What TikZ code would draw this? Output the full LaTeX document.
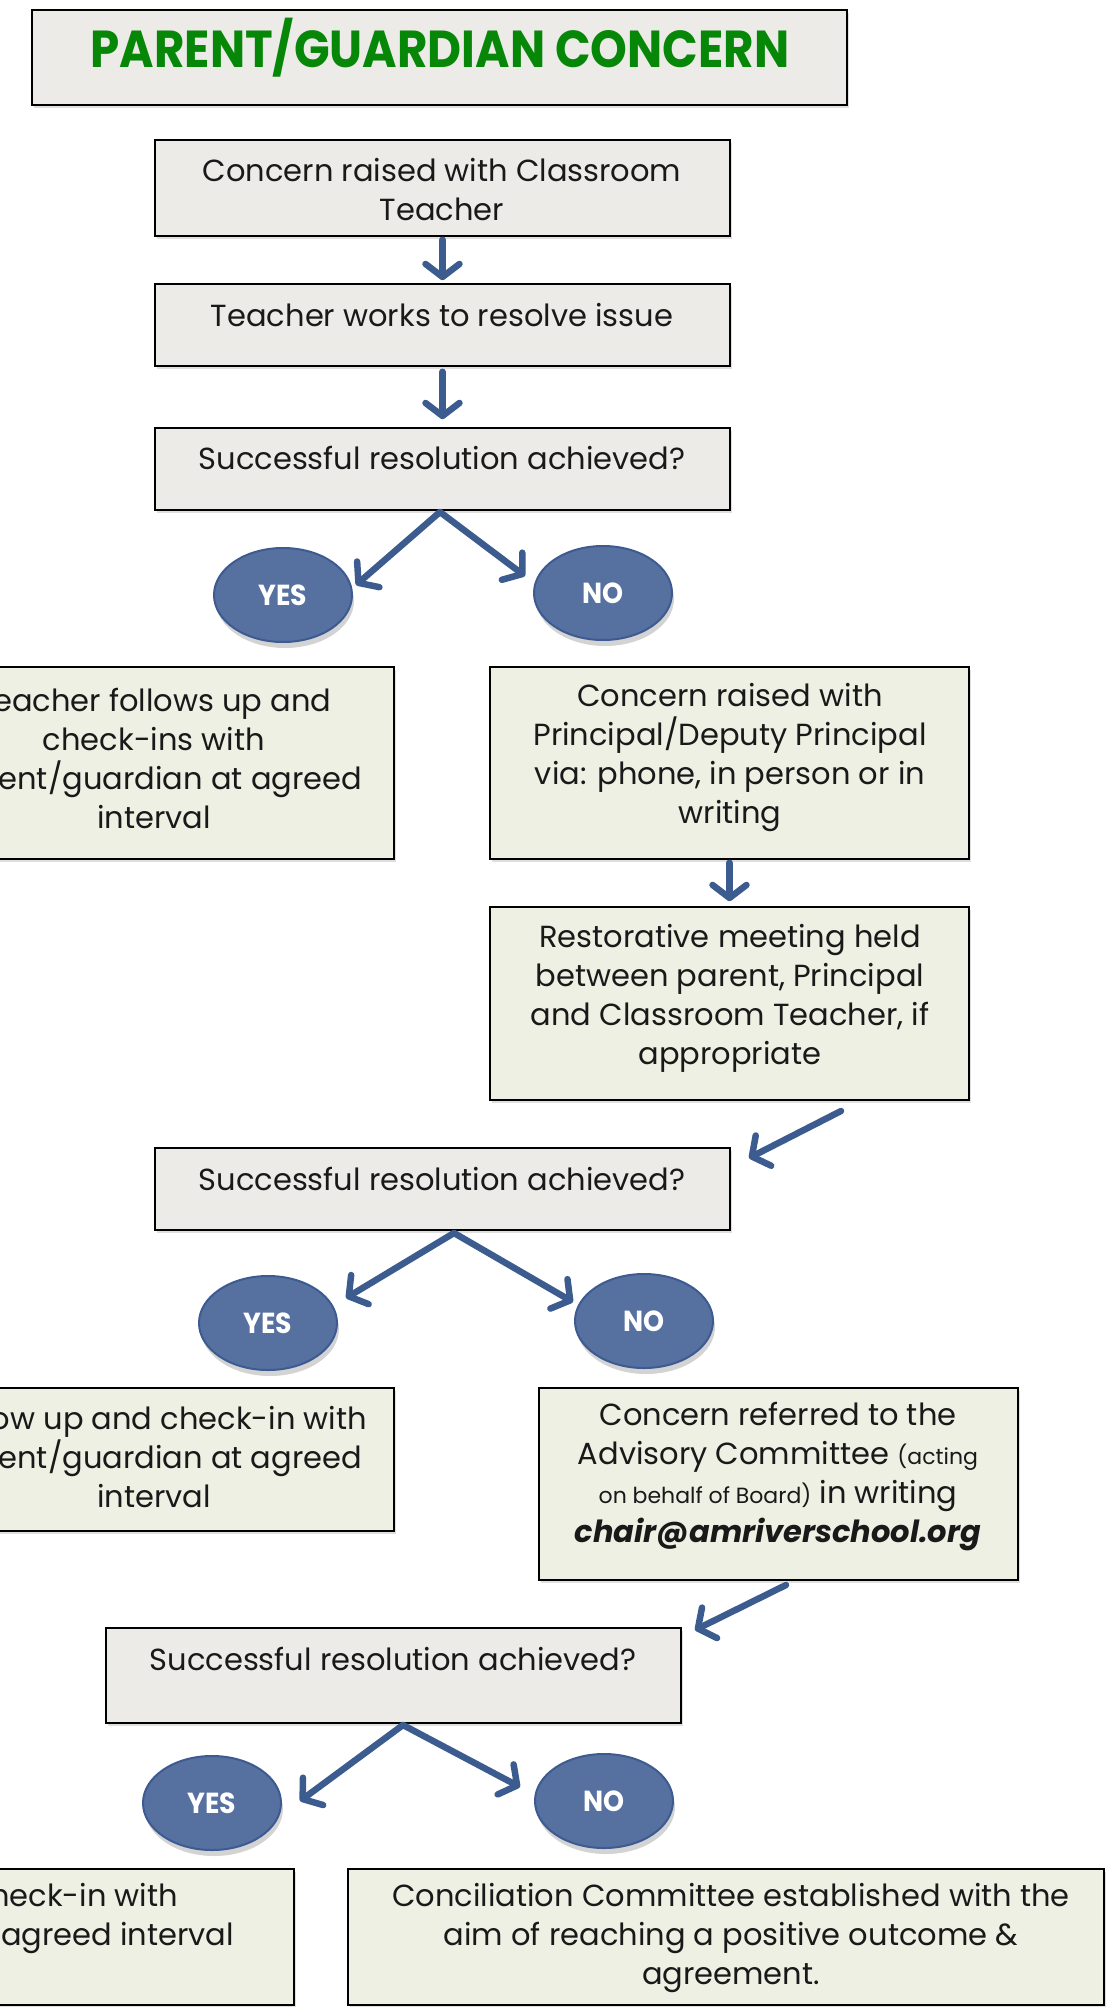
\documentclass[tikz,border=0pt]{standalone}
\usepackage{fontspec}
\setmainfont{Poppins}
\newfontfamily\titlefont{Poppins}[FakeStretch=0.9]
\newfontfamily\ynfont{Poppins}[FakeStretch=0.92]
\usetikzlibrary{arrows.meta,shadows,shapes.geometric}
\definecolor{boxgray}{HTML}{EDEBE8}
\definecolor{boxgreen}{HTML}{EEF0E4}
\definecolor{ttlgreen}{HTML}{078707}
\definecolor{arrblue}{HTML}{3C5B8E}
\definecolor{ellfill}{HTML}{5670A0}
\definecolor{elldraw}{HTML}{3D5B91}
\tikzset{
  box/.style={draw=black, line width=1.6pt, fill=boxgray, rectangle, inner sep=0,
    drop shadow={opacity=0.25, shadow xshift=2pt, shadow yshift=-3pt}},
  gbox/.style={box, fill=boxgreen},
  body/.style={font=\fontsize{30.5}{39}\selectfont, align=center, inner sep=0, text=black!90},
  yn/.style={ellipse, minimum width=138pt, minimum height=94pt, fill=ellfill, draw=elldraw,
    line width=2pt, text=white, font=\ynfont\bfseries\fontsize{29}{29}\selectfont, inner sep=0,
    drop shadow={opacity=0.35, shadow xshift=2pt, shadow yshift=-6pt}},
  flow/.style={draw=arrblue, line width=6.5pt, line cap=round,
    -{Straight Barb[length=13pt,width=34pt,round]}}
}
\begin{document}
\begin{tikzpicture}[x=1pt,y=-1pt]
\useasboundingbox (0,0) rectangle (1106,2007);
\clip (0,0) rectangle (1106,2007);
% title
\node[box, minimum width=815pt, minimum height=95pt] (title) at (439.5,57.5) {};
\node[inner sep=0, text=ttlgreen, font=\titlefont\bfseries\fontsize{52}{52}\selectfont] (tt) at (440,48) {PARENT/GUARDIAN CONCERN};
% first steps
\node[box, minimum width=575pt, minimum height=96pt] (b1) at (442.5,188) {};
\node[body] (t1) at (442,190) {Concern raised with Classroom\\Teacher};
\node[box, minimum width=575pt, minimum height=82pt] (b2) at (442.5,325) {};
\node[body] (t2) at (442,315) {Teacher works to resolve issue};
\node[box, minimum width=575pt, minimum height=82pt] (b3) at (442.5,469) {};
\node[body] (t3) at (442,458) {Successful resolution achieved?};
\draw[flow] ([yshift=-3pt]b1.south) -- ([yshift=3pt]b2.north);
\draw[flow] ([yshift=-5pt]b2.south) -- ([yshift=8pt]b3.north);
% decision 1
\node[yn] (y1) at (283,595) {YES};
\node[yn] (n1) at (603,593) {NO};
\coordinate (d1s) at (440,512);
\coordinate (d1y) at (356,585);
\coordinate (d1n) at (525,576);
\draw[flow] (d1s) -- (d1y);
\draw[flow] (d1s) -- (d1n);
% results 1
\node[gbox, minimum width=481pt, minimum height=192pt] (ba) at (153.5,763) {};
\node[body] (ta) at (154,758) {Teacher follows up and\\check-ins with\\parent/guardian at agreed\\interval};
\node[gbox, minimum width=479pt, minimum height=192pt] (bb) at (729.5,763) {};
\node[body] (tb) at (730,758) {Concern raised with\\Principal/Deputy Principal\\via: phone, in person or in\\writing};
\node[gbox, minimum width=479pt, minimum height=193pt] (bc) at (729.5,1003.5) {};
\node[body] (tc) at (730,998) {Restorative meeting held\\between parent, Principal\\and Classroom Teacher, if\\appropriate};
\draw[flow] ([yshift=-3pt]bb.south) -- ([yshift=5pt]bc.north);
\coordinate (c1s) at (841,1111);
\coordinate (c1e) at (749,1158);
\draw[flow] (c1s) -- (c1e);
% decision 2
\node[box, minimum width=575pt, minimum height=82pt] (bd) at (442.5,1189) {};
\node[body] (td) at (442,1179) {Successful resolution achieved?};
\node[yn] (y2) at (268,1323) {YES};
\node[yn] (n2) at (644,1321) {NO};
\coordinate (d2s) at (454,1233);
\coordinate (d2y) at (346,1298);
\coordinate (d2n) at (573,1302);
\draw[flow] (d2s) -- (d2y);
\draw[flow] (d2s) -- (d2n);
\node[gbox, minimum width=481pt, minimum height=143pt] (be) at (153.5,1459.5) {};
\node[body] (te) at (154,1457) {Follow up and check-in with\\parent/guardian at agreed\\interval};
\node[gbox, minimum width=479pt, minimum height=192pt] (bf) at (778.5,1484) {};
\node[body] (tf) at (778,1477) {Concern referred to the\\Advisory Committee {\fontsize{22}{39}\selectfont(acting}\\{\fontsize{22}{39}\selectfont on behalf of Board)} in writing\\\textbf{\textit{chair@amriverschool.org}}};
\coordinate (c2s) at (786,1585);
\coordinate (c2e) at (695,1630);
\draw[flow] (c2s) -- (c2e);
% decision 3
\node[box, minimum width=575pt, minimum height=95pt] (bg) at (393.5,1675.5) {};
\node[body] (tg) at (393,1659) {Successful resolution achieved?};
\node[yn] (y3) at (212,1803) {YES};
\node[yn] (n3) at (604,1801) {NO};
\coordinate (d3s) at (403,1725);
\coordinate (d3y) at (300,1801);
\coordinate (d3n) at (520,1787);
\draw[flow] (d3s) -- (d3y);
\draw[flow] (d3s) -- (d3n);
\node[gbox, minimum width=660pt, minimum height=136pt] (bh) at (-36,1937) {};
\node[body] (th) at (-35,1918) {Follow up and check-in with\\parent/guardian at agreed interval};
\node[gbox, minimum width=756pt, minimum height=136pt] (bi) at (726,1937) {};
\node[body] (ti) at (731,1938) {Conciliation Committee established with the\\aim of reaching a positive outcome \&\\agreement.};
\end{tikzpicture}
\end{document}
